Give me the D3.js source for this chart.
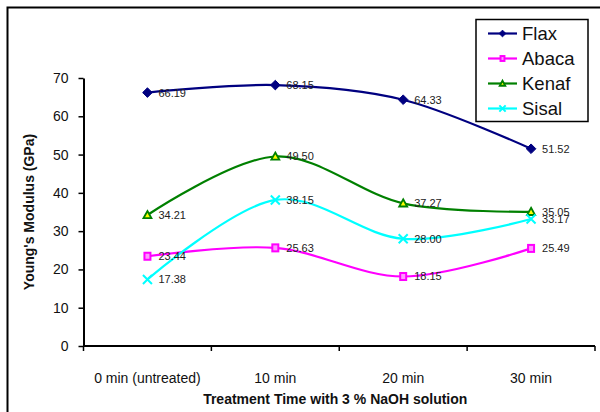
<!DOCTYPE html>
<html>
<head>
<meta charset="utf-8">
<script src="https://cdn.jsdelivr.net/npm/d3@7"></script>
<style>
  html, body { margin: 0; padding: 0; background: #fff; }
  svg { display: block; font-family: Arial, "Liberation Sans", sans-serif; }
</style>
</head>
<body>
<svg id="chart" width="600" height="412"></svg>
<script>
// Young's modulus of natural fibres after NaOH treatment
const categories = ["0 min (untreated)", "10 min", "20 min", "30 min"];
const flax  = [66.19, 68.15, 64.33, 51.52];
const abaca = [23.44, 25.63, 18.15, 25.49];
const kenaf = [34.21, 49.50, 37.27, 35.05];
const sisal = [17.38, 38.15, 28.00, 33.17];
const seriesNames = ["Flax", "Abaca", "Kenaf", "Sisal"];
const yTicks = [0, 10, 20, 30, 40, 50, 60, 70];

const series = [
  { name: seriesNames[0], values: flax,  color: "#000080", marker: "diamond" },
  { name: seriesNames[1], values: abaca, color: "#ff00ff", marker: "square" },
  { name: seriesNames[2], values: kenaf, color: "#008000", marker: "triangle" },
  { name: seriesNames[3], values: sisal, color: "#00ffff", marker: "cross" }
];

const svg = d3.select("#chart");

// outer chart frame (runs past the right and bottom edges)
svg.append("rect")
  .attr("x", 7.5).attr("y", 7.5)
  .attr("width", 700).attr("height", 500)
  .attr("fill", "none").attr("stroke", "#000").attr("stroke-width", 2);

const plot = { left: 83.5, right: 595, top: 78, bottom: 346 };

const x = d3.scaleBand().domain(categories).range([plot.left, plot.right]);
const y = d3.scaleLinear().domain([0, 70]).range([plot.bottom, plot.top]);

// y axis
const yAxis = svg.append("g")
  .attr("transform", `translate(${plot.left},0)`)
  .call(d3.axisLeft(y).tickValues(yTicks).tickSize(5).tickPadding(10).tickSizeOuter(0));
yAxis.select(".domain").attr("stroke", "#000").attr("stroke-width", 2);
yAxis.selectAll(".tick line").attr("stroke", "#000").attr("stroke-width", 1.5);
yAxis.selectAll(".tick text").attr("font-size", 14).attr("fill", "#111")
  .attr("font-family", "Arial, 'Liberation Sans', sans-serif");

// x axis with tick marks at category boundaries
const xAxis = svg.append("g")
  .attr("transform", `translate(0,${plot.bottom})`);
xAxis.append("line")
  .attr("x1", plot.left).attr("x2", plot.right)
  .attr("y1", 0).attr("y2", 0)
  .attr("stroke", "#000").attr("stroke-width", 2);
const boundaries = categories.map(c => x(c)).concat([x(categories[categories.length - 1]) + x.bandwidth()]);
xAxis.selectAll("line.tk").data(boundaries).join("line")
  .attr("class", "tk")
  .attr("x1", d => d).attr("x2", d => d)
  .attr("y1", 0).attr("y2", 5)
  .attr("stroke", "#000").attr("stroke-width", 1.5);
xAxis.selectAll("text").data(categories).join("text")
  .attr("x", d => x(d) + x.bandwidth() / 2)
  .attr("y", 37)
  .attr("text-anchor", "middle")
  .attr("font-size", 14).attr("fill", "#111")
  .text(d => d);

// axis titles
svg.append("text")
  .attr("transform", `translate(34,${(plot.top + plot.bottom) / 2}) rotate(-90)`)
  .attr("text-anchor", "middle")
  .attr("font-size", 14).attr("font-weight", "bold").attr("fill", "#111")
  .text("Young's Modulus (GPa)");
svg.append("text")
  .attr("x", (plot.left + plot.right) / 2 - 4)
  .attr("y", 404)
  .attr("text-anchor", "middle")
  .attr("font-size", 14).attr("font-weight", "bold").attr("fill", "#111")
  .text("Treatment Time with 3 % NaOH solution");

const cx = (i) => x(categories[i]) + x.bandwidth() / 2;

const line = d3.line()
  .x((d, i) => cx(i))
  .y(d => y(d))
  .curve(d3.curveCardinal.tension(0));

function drawMarker(g, type, color, px, py, scale) {
  const s = scale || 1;
  if (type === "diamond") {
    const r = 4.8 * s;
    g.append("path")
      .attr("d", `M${px},${py - r}L${px + r},${py}L${px},${py + r}L${px - r},${py}Z`)
      .attr("fill", color).attr("stroke", color).attr("stroke-width", 1);
  } else if (type === "square") {
    const r = 3.5 * s;
    g.append("rect")
      .attr("x", px - r + 0.5).attr("y", py - r)
      .attr("width", 2 * r - 1).attr("height", 2 * r)
      .attr("fill", "#ff99ff").attr("stroke", color).attr("stroke-width", 2);
  } else if (type === "triangle") {
    const r = 4 * s;
    g.append("path")
      .attr("d", `M${px},${py - r}L${px + r},${py + r * 0.8}L${px - r},${py + r * 0.8}Z`)
      .attr("fill", "#ffff00").attr("stroke", color).attr("stroke-width", 1.8);
  } else if (type === "cross") {
    const r = 4.5 * s;
    g.append("path")
      .attr("d", `M${px - r},${py - r}L${px + r},${py + r}M${px + r},${py - r}L${px - r},${py + r}`)
      .attr("fill", "none").attr("stroke", color).attr("stroke-width", 2);
  }
}

const marks = svg.append("g");
series.forEach(s => {
  const g = marks.append("g");
  g.append("path")
    .datum(s.values)
    .attr("d", line)
    .attr("fill", "none")
    .attr("stroke", s.color)
    .attr("stroke-width", 2.2);
  s.values.forEach((v, i) => drawMarker(g, s.marker, s.color, cx(i), y(v)));
});

// value labels
const labels = svg.append("g");
series.forEach(s => {
  s.values.forEach((v, i) => {
    labels.append("text")
      .attr("x", cx(i) + 11)
      .attr("y", y(v))
      .attr("dy", "0.36em")
      .attr("font-size", 11).attr("fill", "#222")
      .text(v.toFixed(2));
  });
});

// legend
const legend = svg.append("g");
legend.append("rect")
  .attr("x", 476).attr("y", 19.5)
  .attr("width", 112).attr("height", 102)
  .attr("fill", "#fff").attr("stroke", "#000").attr("stroke-width", 1.5);
series.forEach((s, i) => {
  const ly = 33.5 + i * 25;
  legend.append("line")
    .attr("x1", 488).attr("x2", 517)
    .attr("y1", ly).attr("y2", ly)
    .attr("stroke", s.color).attr("stroke-width", 2.2);
  drawMarker(legend, s.marker, s.color, 502.5, ly, 0.7);
  legend.append("text")
    .attr("x", 522).attr("y", ly)
    .attr("dy", "0.36em")
    .attr("font-size", 18.5).attr("fill", "#111")
    .text(s.name);
});
</script>
</body>
</html>
